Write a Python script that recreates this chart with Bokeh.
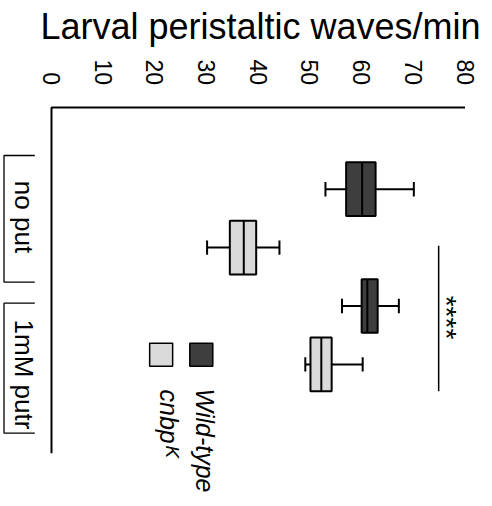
import math
from bokeh.plotting import figure
from bokeh.models import Range1d, ColumnDataSource
from bokeh.core.properties import value
from bokeh.embed import file_html
from bokeh.resources import INLINE

# ---------------- data ----------------
title_text = "Larval peristaltic waves/min"
conditions = ["no put", "1mM putr"]
genotypes = ["Wild-type", "cnbp"]
genotype_sup = ["", "K"]
tick_values = [0, 10, 20, 30, 40, 50, 60, 70, 80]
tick_labels = ["0", "10", "20", "30", "40", "50", "60", "70", "80"]

wt_low = [53.0, 56.2]
wt_q1 = [57.0, 60.0]
wt_median = [60.1, 61.1]
wt_q3 = [62.7, 63.1]
wt_high = [70.1, 67.2]

cnbp_low = [30.1, 49.1]
cnbp_q1 = [34.5, 50.1]
cnbp_median = [37.2, 52.2]
cnbp_q3 = [39.6, 54.2]
cnbp_high = [44.1, 60.2]

signif_label = "****"
signif_x = 74.9

colors = ["#3e3e3e", "#dadada"]

# ---------------- layout helpers ----------------
W, H = 492, 506
X0_PAGE = 51.0        # page x of value 0
PX_PER_UNIT = 5.169   # pixels per value unit
K1_PAGE = 188.7       # page y of slot 1
PX_PER_SLOT = 58.4    # pixels between box slots
FONT = value("Liberation Sans")


def xd(page_x):
    return (page_x - X0_PAGE) / PX_PER_UNIT


def yd(page_y):
    return 1 + (page_y - K1_PAGE) / PX_PER_SLOT


p = figure(width=W, height=H, output_backend="svg", toolbar_location=None,
           x_range=Range1d(xd(0), xd(W)),
           y_range=Range1d(yd(H), yd(0)),
           x_axis_location=None, y_axis_location=None,
           min_border=0, outline_line_color=None)
p.grid.visible = False
p.background_fill_color = "white"
p.border_fill_color = "white"

# ---------------- boxes ----------------
slots, low, q1, med, q3, high, fill = [], [], [], [], [], [], []
for g in range(len(conditions)):
    for j, (lo_, a, m, b, hi_) in enumerate([
        (wt_low[g], wt_q1[g], wt_median[g], wt_q3[g], wt_high[g]),
        (cnbp_low[g], cnbp_q1[g], cnbp_median[g], cnbp_q3[g], cnbp_high[g]),
    ]):
        slots.append(1 + 2 * g + j)
        low.append(lo_); q1.append(a); med.append(m); q3.append(b); high.append(hi_)
        fill.append(colors[j])

BOX_H = 0.92
CAP_H = 0.123
src = ColumnDataSource(dict(
    y=slots, low=low, q1=q1, med=med, q3=q3, high=high, fill=fill,
    ytop=[s - BOX_H / 2 for s in slots], ybot=[s + BOX_H / 2 for s in slots],
    ctop=[s - CAP_H for s in slots], cbot=[s + CAP_H for s in slots],
))

p.segment(x0="low", x1="q1", y0="y", y1="y", source=src, line_color="black", line_width=2)
p.segment(x0="q3", x1="high", y0="y", y1="y", source=src, line_color="black", line_width=2)
p.segment(x0="low", x1="low", y0="ctop", y1="cbot", source=src, line_color="black", line_width=2)
p.segment(x0="high", x1="high", y0="ctop", y1="cbot", source=src, line_color="black", line_width=2)
p.hbar(y="y", left="q1", right="q3", height=BOX_H, source=src,
       fill_color="fill", line_color="black", line_width=2)
p.segment(x0="med", x1="med", y0="ytop", y1="ybot", source=src, line_color="black", line_width=2)

# ---------------- axes (drawn) ----------------
axis_top = yd(107)
axis_bottom = yd(452.7)
p.line(x=[tick_values[0], tick_values[0], tick_values[-1]],
       y=[axis_bottom, axis_top, axis_top], line_color="black", line_width=2)
p.text(x=tick_values, y=[yd(84.5)] * len(tick_values), text=tick_labels,
       angle=-math.pi / 2, text_align="right", text_baseline="middle",
       text_font=FONT, text_font_size="23px", text_color="black")

# title
p.text(x=[xd(260)], y=[yd(25.7)], text=[title_text], text_align="center",
       text_baseline="middle", text_font=FONT, text_font_size="36px",
       text_color="black")

# ---------------- condition labels with brackets ----------------
label_y = [yd(216.5), yd(374)]
p.text(x=[xd(23)] * 2, y=label_y, text=conditions, angle=-math.pi / 2,
       text_align="center", text_baseline="middle", text_font=FONT,
       text_font_size="26px", text_color="black")
br_top = [155, 302.7]
br_bot = [281.7, 432.7]
p.multi_line(
    xs=[[xd(34.3), xd(3.5), xd(3.5), xd(34.3)] for _ in range(2)],
    ys=[[yd(t), yd(t), yd(b), yd(b)] for t, b in zip(br_top, br_bot)],
    line_color="black", line_width=1.3)

# ---------------- significance ----------------
p.segment(x0=[signif_x], x1=[signif_x], y0=[1.97], y1=[4 + BOX_H / 2],
          line_color="black", line_width=1.5)
p.text(x=[xd(445.6)], y=[yd(317)], text=[signif_label], angle=-math.pi / 2,
       text_align="center", text_baseline="middle", text_font=FONT,
       text_font_size="28px", text_color="black")

# ---------------- legend ----------------
leg_x = [xd(200.8), xd(160.65)]
p.rect(x=leg_x, y=[yd(354.2)] * 2, width=23, height=23,
       width_units="screen", height_units="screen",
       fill_color=colors, line_color="black", line_width=1.5)
p.text(x=[xd(204.1), xd(168.3)], y=[yd(388), yd(389)], text=genotypes,
       angle=-math.pi / 2, text_align="left", text_baseline="middle",
       text_font=FONT, text_font_size="25px", text_font_style="italic",
       text_color="black")
p.text(x=[xd(171.6)], y=[yd(445)], text=[genotype_sup[1]], angle=-math.pi / 2,
       text_align="left", text_baseline="middle", text_font=FONT,
       text_font_size="19px", text_font_style="italic", text_color="black")

open("out.html", "w").write(file_html(p, INLINE))
